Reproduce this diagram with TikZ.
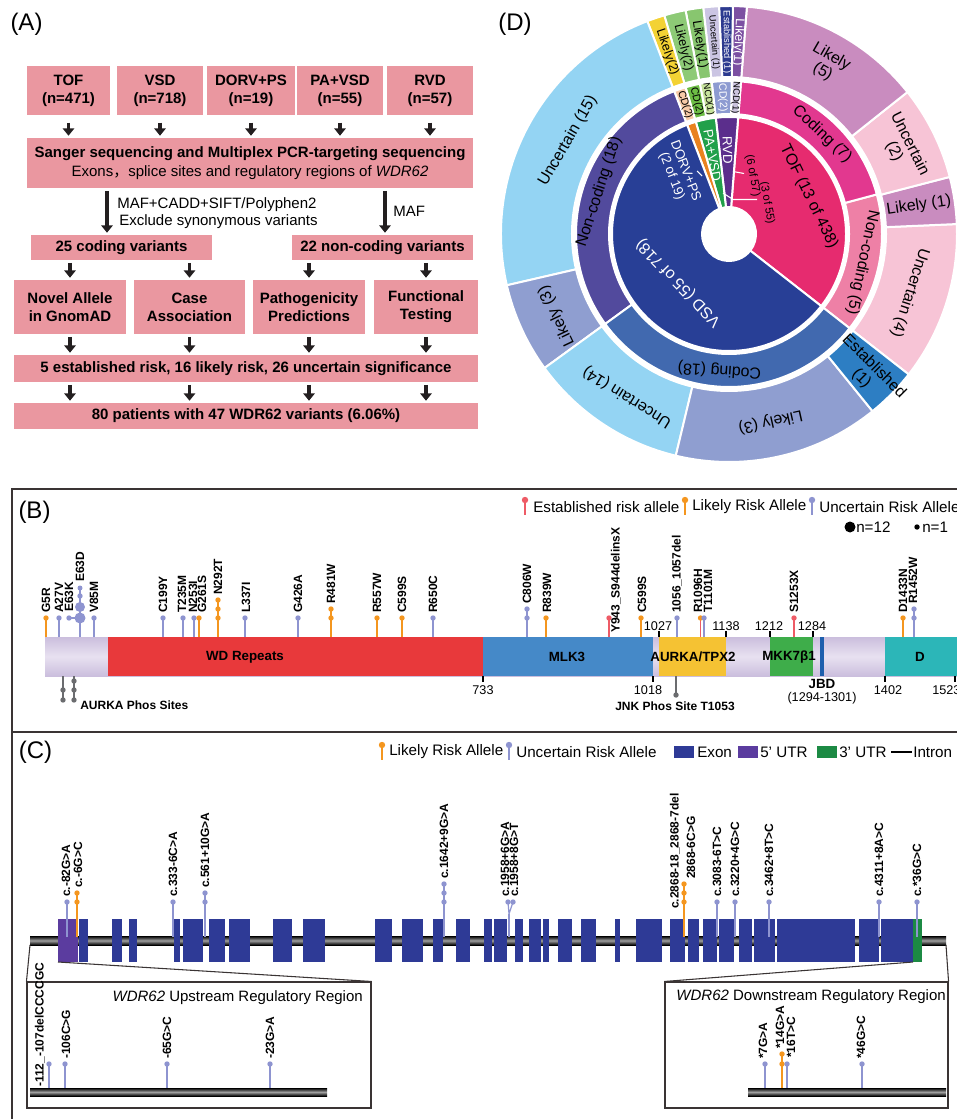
\documentclass[tikz,border=0pt]{standalone}
\usepackage{fontspec}
\setmainfont{Liberation Sans}
\newfontfamily\cjkfont{Noto Sans CJK SC}
\usetikzlibrary{arrows.meta}
\newcommand\fsz[2]{\fontsize{#1}{#2}\selectfont}
\definecolor{boxpink}{HTML}{EA97A0}
\definecolor{arrowk}{HTML}{231F20}
\definecolor{framek}{HTML}{3A3434}
\definecolor{estred}{HTML}{EE5B66}
\definecolor{likor}{HTML}{F4961F}
\definecolor{uncpu}{HTML}{8E94D0}
\definecolor{phosg}{HTML}{6B6C6F}
\definecolor{lavA}{HTML}{CBBEDD}
\definecolor{lavB}{HTML}{E8E1F0}
\definecolor{wdred}{HTML}{E8393B}
\definecolor{mlkblue}{HTML}{4589C8}
\definecolor{aurkay}{HTML}{F5C233}
\definecolor{mkkg}{HTML}{3EAD4A}
\definecolor{jbdb}{HTML}{1E5FAD}
\definecolor{dteal}{HTML}{2CB6B8}
\definecolor{exonc}{HTML}{2E3A96}
\definecolor{utrfive}{HTML}{5B3C9F}
\definecolor{utrthree}{HTML}{1C8A44}
\definecolor{tofIn}{HTML}{E62B6F}
\definecolor{vsdIn}{HTML}{283F96}
\definecolor{dorvIn}{HTML}{E9821F}
\definecolor{paIn}{HTML}{21A04A}
\definecolor{rvdIn}{HTML}{5B2E8C}
\definecolor{tofCod}{HTML}{E2388F}
\definecolor{tofNon}{HTML}{EE80A6}
\definecolor{vsdNon}{HTML}{524A9D}
\definecolor{vsdCod}{HTML}{4169AF}
\definecolor{cdPeach}{HTML}{F7CAA8}
\definecolor{cdGreen}{HTML}{6DBD45}
\definecolor{ncdLgreen}{HTML}{C7E29C}
\definecolor{rvdCD}{HTML}{8D9BD1}
\definecolor{rvdNCD}{HTML}{CBC3DD}
\definecolor{uncBlue}{HTML}{94D4F3}
\definecolor{likVSD}{HTML}{8F9ED0}
\definecolor{estVSD}{HTML}{2D7EC3}
\definecolor{uncPink}{HTML}{F7C4D6}
\definecolor{likMauve}{HTML}{C98CBF}
\definecolor{yelD}{HTML}{F3D234}
\definecolor{grnA}{HTML}{8DCA76}
\definecolor{grnB}{HTML}{88C66F}
\definecolor{uncOne}{HTML}{CBC5E3}
\definecolor{estNavy}{HTML}{2C3A8F}
\definecolor{likPurple}{HTML}{7C50A2}
\newcommand\seg[5]{\path[fill=#5,draw=white,line width=1.5pt] (#1:#3) arc[start angle=#1,end angle=#2,radius=#3] -- (#2:#4) arc[start angle=#2,end angle=#1,radius=#4] -- cycle;}
\newcommand\lp[4]{\draw[#2,line width=0.9pt] (#1,#4) -- (#1,#3); \fill[#2] (#1,#3) circle[radius=2.7];}
\newcommand\dt[3]{\fill[#3] (#1,#2) circle[radius=2.7];}
\newcommand\vl[3]{\node[vlab] at (#1,#2) {#3};}
\begin{document}
\begin{tikzpicture}[x=0.75pt,y=-0.75pt,
  abox/.style n args={2}{fill=boxpink,inner sep=0pt,minimum width=#1*0.75pt,minimum height=#2*0.75pt,align=center,font=\fsz{11.25}{13.5}\bfseries},
  arr/.style={arrowk,line width=2.6pt,-{Triangle[width=8.5pt,length=5.5pt]},shorten <=2pt,shorten >=1.5pt},
  lab/.style={inner sep=0pt,font=\fsz{11.25}{13.5}},
  plab/.style={inner sep=0pt,font=\fsz{18}{20}},
  vlab/.style={rotate=90,anchor=west,inner sep=0pt,font=\fsz{9}{10}\bfseries},
  dl/.style={inner sep=0pt,align=center,font=\fsz{12}{13}},
  dsm/.style={inner sep=0pt,font=\fsz{7}{8}},
  dmid/.style={inner sep=0pt,font=\fsz{8}{9}},
  dlk/.style={inner sep=0pt,font=\fsz{9.5}{10}},
  din/.style={inner sep=0pt,align=center,font=\fsz{10}{11}},
  dtiny/.style={inner sep=0pt,font=\fsz{8.5}{9}},
  leg/.style={inner sep=0pt,anchor=west,font=\fsz{11.4}{13}},
  dom/.style={inner sep=0pt,font=\fsz{10}{11}\bfseries},
  num/.style={inner sep=0pt,font=\fsz{9.5}{10}},
  gbar/.style={top color=black,bottom color=black,middle color=gray!75},
  tick/.style={line width=1.1pt,black},
  frm/.style={framek,line width=1.5pt},
  zln/.style={framek,line width=0.8pt}
]
\useasboundingbox (0,0) rectangle (956,1119);

% ================= Panel A =================
\node[plab] (labA) at (26.5,24) {(A)};
\node[abox={83}{49}] (tof) at (68.5,90.5) {TOF\\(n=471)};
\node[abox={86}{49}] (vsd) at (160,90.5) {VSD\\(n=718)};
\node[abox={88}{49}] (dorv) at (251,90.5) {DORV+PS\\(n=19)};
\node[abox={86}{49}] (pavsd) at (340,90.5) {PA+VSD\\(n=55)};
\node[abox={86}{49}] (rvd) at (430,90.5) {RVD\\(n=57)};
\node[abox={446}{50},font=\fsz{11.25}{14.5}] (sanger) at (250,163) {{\bfseries Sanger sequencing and Multiplex PCR-targeting sequencing}\\{\mdseries Exons{\cjkfont ，}splice sites and regulatory regions of \textit{WDR62}}};
\node[abox={181}{25}] (coding) at (121.5,247.5) {25 coding variants};
\node[abox={181}{25}] (noncoding) at (382.5,247.5) {22 non-coding variants};
\node[abox={112}{54}] (novel) at (70,307) {Novel Allele\\in GnomAD};
\node[abox={111}{54}] (case) at (189.5,307) {Case\\Association};
\node[abox={112}{54}] (patho) at (309,307) {Pathogenicity\\Predictions};
\node[abox={104}{54}] (func) at (426,307) {Functional\\Testing};
\node[abox={464}{27}] (est) at (246,368.5) {5 established risk, 16 likely risk, 26 uncertain significance};
\node[abox={464}{26}] (pat) at (246,416) {80 patients with 47 WDR62 variants (6.06\%)};
\foreach \n in {tof,vsd,dorv,pavsd,rvd} \draw[arr,shorten <=5.5pt] (\n.south) -- (\n.south |- sanger.north);
\coordinate (lA) at (107,0);
\coordinate (lB) at (385,0);
\draw[arr] (sanger.south -| lA) -- (coding.north -| lA);
\draw[arr] (sanger.south -| lB) -- (noncoding.north -| lB);
\node[lab,anchor=west] (maf1) at (117,205) {MAF+CADD+SIFT/Polyphen2};
\node[lab,anchor=west] (maf2) at (119,222) {Exclude synonymous variants};
\node[lab,anchor=west] (maf3) at (393,211) {MAF};
\draw[arr] (coding.south -| novel.north) -- (novel.north);
\draw[arr] (coding.south -| case.north) -- (case.north);
\draw[arr] (noncoding.south -| patho.north) -- (patho.north);
\draw[arr] (noncoding.south -| func.north) -- (func.north);
\foreach \n in {novel,case,patho,func} \draw[arr] (\n.south) -- (\n.south |- est.north);
\foreach \n in {novel,case,patho,func} \draw[arr] (\n.south |- est.south) -- (\n.south |- pat.north);

% ================= Panel D =================
\node[plab] (labD) at (515,24) {(D)};
\begin{scope}[shift={(729,234)},yscale=-1]
% inner ring
\seg{-38}{85.5}{27}{117}{tofIn}
\seg{85.5}{96.5}{27}{117}{rvdIn}
\seg{96.5}{106.5}{27}{117}{paIn}
\seg{106.5}{111}{27}{117}{dorvIn}
\seg{111}{322}{27}{117}{vsdIn}
% middle ring
\seg{-38}{15}{120}{153}{tofNon}
\seg{15}{85.5}{120}{153}{tofCod}
\seg{85.5}{89}{120}{153}{rvdNCD}
\seg{89}{96.5}{120}{153}{rvdCD}
\seg{96.5}{101}{120}{153}{ncdLgreen}
\seg{101}{106.5}{120}{153}{cdGreen}
\seg{106.5}{111}{120}{153}{cdPeach}
\seg{111}{216}{120}{153}{vsdNon}
\seg{216}{322}{120}{153}{vsdCod}
% outer ring
\seg{-38}{2.5}{157}{228}{uncPink}
\seg{2.5}{14.5}{157}{228}{likMauve}
\seg{14.5}{38.5}{157}{228}{uncPink}
\seg{38.5}{85.5}{157}{228}{likMauve}
\seg{85.5}{89}{157}{228}{likPurple}
\seg{89}{92.5}{157}{228}{estNavy}
\seg{92.5}{96.5}{157}{228}{uncOne}
\seg{96.5}{101}{157}{228}{grnB}
\seg{101}{106.5}{157}{228}{grnA}
\seg{106.5}{111}{157}{228}{yelD}
\seg{111}{193}{157}{228}{uncBlue}
\seg{193}{216}{157}{228}{likVSD}
\seg{216}{256.5}{157}{228}{uncBlue}
\seg{256.5}{309}{157}{228}{likVSD}
\seg{309}{322}{157}{228}{estVSD}
% labels outer / middle
\node[dl,rotate=60] (dU15) at (150:186) {Uncertain (15)};
\node[dl,rotate=72] (dN18) at (162:136.5) {Non-coding (18)};
\node[dl,rotate=115.5] (dL3a) at (205.5:191) {Likely (3)};
\node[dl,rotate=148] (dU14) at (238:192) {Uncertain (14)};
\node[dl,rotate=176] (dC18) at (266:136.5) {Coding (18)};
\node[dl,rotate=-167.5] (dL3b) at (-77.5:192) {Likely (3)};
\node[dl,rotate=-45] (dE1) at (-45:196) {Established\\(1)};
\node[dl,rotate=-108] (dU4) at (-18:190) {Uncertain (4)};
\node[dl,rotate=-102] (dN5) at (-12:136.5) {Non-coding (5)};
\node[dl,rotate=8.5] (dL1) at (8.5:192) {Likely (1)};
\node[dl,rotate=-63.5] (dU2) at (26.5:193) {Uncertain\\(2)};
\node[dl,rotate=-30] (dL5) at (60:196) {Likely\\(5)};
\node[dl,rotate=-43] (dC7) at (47:136.5) {Coding (7)};
\node[dl,rotate=-64] (dTOF) at (25:88) {TOF (13 of 438)};
\node[dl,white,rotate=134] (dVSD) at (224:70) {VSD (55 of 718)};
\node[din,white,rotate=-89] (dRVD) at (91:84) {RVD};
\node[din,white,rotate=-80] (dPA) at (102:80) {PA+VSD};
\node[din,white,rotate=-69] (dDORV) at (130:79) {DORV+PS\\(2 of 19)};
\node[dtiny,rotate=-80] (d657) at (68:63) {(6 of 57)};
\node[dtiny,rotate=-80] (d355) at (39:49) {(3 of 55)};
\node[dlk,rotate=-71.25] (oY) at (108.75:192) {Likely(2)};
\node[dlk,rotate=-76.25] (oG2) at (103.75:192) {Likely(2)};
\node[dlk,rotate=-81.25] (oG1) at (98.75:192) {Likely(1)};
\node[dsm,rotate=-85.5] (oU1) at (94.5:192) {Uncertain (1)};
\node[dsm,white,rotate=-89.25] (oE1) at (90.75:192) {Established (1)};
\node[dlk,white,rotate=-92.75] (oP1) at (87.25:192) {Likely(1)};
\node[dmid,rotate=-71.25] (mP) at (108.75:136.5) {CD(2)};
\node[dmid,rotate=-76.25] (mG) at (103.75:136.5) {CD(2)};
\node[dsm,rotate=-81.25] (mLG) at (98.75:136.5) {NCD(1)};
\node[dmid,white,rotate=-87.25] (mR) at (92.75:136.5) {CD(2)};
\node[dsm,rotate=-92.75] (mRN) at (87.25:136.5) {NCD(1)};
\end{scope}
\coordinate (q1) at (733,171.5);
\coordinate (q2) at (744,173.5);
\coordinate (q3) at (723,193);
\coordinate (q4) at (733,199.5);
\coordinate (q5) at (757,199.5);
\coordinate (q6) at (697,171);
\coordinate (q7) at (702,176);
\draw[white,line width=0.8pt] (q1) -- (q2);
\draw[white,line width=0.8pt] (q3) -- (q4) -- (q5);
\draw[white,line width=0.8pt] (q6) -- (q7);

% ================= Frames =================
\draw[frm] (960,489) -- (12,489) -- (12,1125);
\draw[frm] (12,732) -- (960,732);

% ================= Panel B =================
\node[plab] (labB) at (34.5,512) {(B)};
\draw[estred,line width=1.1pt] (525,500) -- (525,515); \fill[estred] (525,500) circle[radius=3.2];
\node[leg] (lgE) at (533,507) {Established risk allele};
\draw[likor,line width=1.1pt] (685,500) -- (685,515); \fill[likor] (685,500) circle[radius=3.2];
\node[leg] (lgL) at (692,507) {Likely Risk Allele};
\draw[uncpu,line width=1.1pt] (812,500) -- (812,515); \fill[uncpu] (812,500) circle[radius=3.2];
\node[leg] (lgU) at (819,507) {Uncertain Risk Allele};
\fill[black] (850,527) circle[radius=5.5];
\node[leg] (n12) at (856,527) {n=12};
\fill[black] (917,527) circle[radius=2.7];
\node[leg] (n1) at (922,527) {n=1};

% protein bar
\shade[top color=lavA,bottom color=lavA,middle color=lavB] (45,637) rectangle (960,676);
\fill[wdred] (108,637) rectangle (483,676);
\fill[mlkblue] (483,637) rectangle (653,676);
\fill[aurkay] (659,637) rectangle (726,676);
\fill[mkkg] (770,637) rectangle (813,676);
\fill[jbdb] (820,637) rectangle (823.5,676);
\fill[dteal] (885,637) rectangle (960,676);
\node[dom] (dWD) at (245,657) {WD Repeats};
\node[dom] (dMLK) at (567,657) {MLK3};
\node[dom] (dAUR) at (693,657) {AURKA/TPX2};
\node[dom] (dMKK) at (789,657) {MKK7β1};
\node[dom] (dD) at (920,657) {D};
% ticks
\foreach \x in {483,653,885,955} \draw[tick] (\x,676) -- (\x,682);
\foreach \x in {659,726,770,813} \draw[tick] (\x,631) -- (\x,637);
\node[num] (p733) at (483,690) {733};
\node[num] (p1018) at (648,690) {1018};
\node[num] (p1402) at (888,690) {1402};
\node[num,anchor=west] (p1523) at (932,690) {1523};
\node[num] (p1027) at (658,626) {1027};
\node[num] (p1138) at (726,626) {1138};
\node[num] (p1212) at (769,626) {1212};
\node[num] (p1284) at (812,626) {1284};
\node[dom] (jbd) at (822,684) {JBD};
\node[num] (jbdr) at (822,698) {(1294-1301)};
% phos sites
\draw[phosg,line width=0.9pt] (676,676) -- (676,695); \dt{676}{695}{phosg}
\node[inner sep=0pt,font=\fsz{9}{10}\bfseries] (jnk) at (675,706) {JNK Phos Site T1053};
\draw[phosg,line width=0.9pt] (63,676) -- (63,700); \dt{63}{690}{phosg} \dt{63}{700}{phosg}
\draw[phosg,line width=0.9pt] (74,676) -- (74,700); \dt{74}{681}{phosg} \dt{74}{690}{phosg} \dt{74}{700}{phosg}
\node[inner sep=0pt,anchor=west,font=\fsz{9}{10}\bfseries] (aurp) at (80,705) {AURKA Phos Sites};
% lollipops B
\lp{46}{likor}{618}{637}
\lp{59}{uncpu}{618}{637}
\draw[uncpu,line width=0.9pt] (80,637) -- (80,588);
\draw[uncpu,line width=0.9pt] (69,618) -- (80,618);
\dt{69}{618}{uncpu}
\fill[uncpu] (80,618) circle[radius=5.5];
\fill[uncpu] (80,607) circle[radius=5];
\dt{80}{596}{uncpu}
\fill[uncpu] (80,588) circle[radius=2.5];
\lp{94}{uncpu}{618}{637}
\lp{163}{uncpu}{618}{637}
\lp{183}{uncpu}{618}{637}
\lp{194}{uncpu}{618}{637}
\lp{199}{likor}{618}{637}
\lp{218}{likor}{600}{637} \dt{218}{609}{likor} \dt{218}{618}{likor}
\lp{245}{uncpu}{618}{637}
\lp{298}{uncpu}{618}{637}
\lp{331}{likor}{609}{637} \dt{331}{618}{likor}
\lp{377}{likor}{618}{637}
\lp{402}{likor}{618}{637}
\lp{433}{uncpu}{618}{637}
\lp{527}{uncpu}{609}{637} \dt{527}{618}{uncpu}
\lp{546}{likor}{618}{637}
\lp{609}{estred}{618}{637}
\lp{641}{likor}{618}{637}
\lp{677}{uncpu}{618}{637}
\draw[estred,line width=0.9pt] (700.5,637) -- (700.5,618); \dt{700.5}{618}{likor}
\lp{704}{uncpu}{618}{637}
\lp{794}{estred}{618}{637}
\lp{903}{likor}{618}{637}
\lp{914}{uncpu}{609}{637} \dt{914}{618}{uncpu}
\vl{46}{613}{G5R}
\vl{59}{613}{A27V}
\vl{69}{612}{E63K}
\vl{80}{582}{E63D}
\vl{94}{613}{V85M}
\vl{163}{613}{C199Y}
\vl{182}{613}{T235M}
\vl{193}{613}{N253I}
\vl{202}{613}{G261S}
\vl{218}{595}{N292T}
\vl{246}{613}{L337I}
\vl{298}{613}{G426A}
\vl{331}{604}{R481W}
\vl{377}{613}{R557W}
\vl{402}{613}{C599S}
\vl{433}{613}{R650C}
\vl{527}{604}{C806W}
\vl{547}{613}{R839W}
\vl{616}{633}{Y943\_S944delinsX}
\vl{642}{613}{C599S}
\vl{677}{613}{1056\_1057del}
\vl{698}{613}{R1096H}
\vl{708}{613}{T1101M}
\vl{794}{613}{S1253X}
\vl{903}{613}{D1433N}
\vl{913}{604}{R1452W}

% ================= Panel C =================
\node[plab] (labC) at (35.5,752) {(C)};
\draw[likor,line width=1.1pt] (382,745) -- (382,760); \fill[likor] (382,745) circle[radius=3.2];
\node[leg] (cgL) at (389,752) {Likely Risk Allele};
\draw[uncpu,line width=1.1pt] (509,745) -- (509,760); \fill[uncpu] (509,745) circle[radius=3.2];
\node[leg] (cgU) at (516,752) {Uncertain Risk Allele};
\fill[exonc] (674,746) rectangle (694,758);
\node[leg] (cgE) at (697,752) {Exon};
\fill[utrfive] (738,746) rectangle (758,758);
\node[leg] (cg5) at (760,752) {5' UTR};
\fill[utrthree] (817,746) rectangle (837,758);
\node[leg] (cg3) at (839,752) {3' UTR};
\draw[black,line width=2.2pt] (891,752) -- (912,752);
\node[leg] (cgI) at (913,752) {Intron};
% gene structure
\shade[gbar] (30,936) rectangle (946,945);
\fill[utrfive] (58,919) rectangle (78,962);
\foreach \a/\b in {78.5/88,112/122,129/137,174/180,183/203,209/225,229/250,273/292,303/325,375/392,402/423,433/443,456/470,484/492,494/507,515/523,529/541,543/549,558/572,581/596,615/620,636/662,670/685,688/699,703/717,718.5/734,739/752,753.5/775,777/855,859/879,880.5/913}
  \fill[exonc] (\a,919) rectangle (\b,962);
\fill[utrthree] (913,919) rectangle (922,962);
% lollipops C
\lp{67}{uncpu}{902}{937}
\lp{77}{likor}{893}{937} \dt{77}{902}{likor}
\lp{173}{uncpu}{902}{937}
\lp{205}{uncpu}{893}{937} \dt{205}{902}{uncpu}
\lp{444}{uncpu}{884}{937} \dt{444}{893}{uncpu} \dt{444}{902}{uncpu}
\draw[uncpu,line width=0.9pt] (508,902) -- (509,914) -- (513,902);
\draw[uncpu,line width=0.9pt] (509,914) -- (509,937);
\dt{508}{902}{uncpu} \dt{513}{902}{uncpu}
\lp{684}{likor}{884}{937} \dt{684}{893}{likor} \dt{684}{902}{likor}
\lp{717}{uncpu}{902}{937}
\lp{735}{uncpu}{902}{937}
\lp{769}{uncpu}{902}{937}
\lp{879}{uncpu}{902}{937}
\lp{917}{uncpu}{902}{937}
\vl{66}{897}{c.-82G>A}
\vl{78}{888}{c.-6G>C}
\vl{173}{897}{c.333-6C>A}
\vl{205}{888}{c.561+10G>A}
\vl{444}{879}{c.1642+9G>A}
\vl{505}{897}{c.1958+6G>A}
\vl{514}{897}{c.1958+8G>T}
\vl{675}{909}{c.2868-18\_2868-7del}
\vl{691}{879}{2868-6C>G}
\vl{717}{897}{c.3083-6T>C}
\vl{735}{897}{c.3220+4G>C}
\vl{769}{897}{c.3462+8T>C}
\vl{879}{897}{c.4311+8A>C}
\vl{917}{897}{c.*36G>C}
% zoom boxes
\node[draw=framek,line width=0.8pt,inner sep=0pt,minimum width=344*0.75pt,minimum height=126*0.75pt] (upbox) at (199,1045) {};
\node[draw=framek,line width=0.8pt,inner sep=0pt,minimum width=283*0.75pt,minimum height=126*0.75pt] (dnbox) at (806.5,1045) {};
\coordinate (u1) at (30,945);
\coordinate (u2) at (58,962);
\coordinate (d1) at (913,962);
\coordinate (d2) at (946,945);
\draw[zln] (u1) -- (upbox.north west);
\draw[zln] (u2) -- (upbox.north east);
\draw[zln] (d1) -- (dnbox.north west);
\draw[zln] (d2) -- (dnbox.north east);
\node[inner sep=0pt,anchor=east,font=\fsz{11.25}{13}] (upt) at (363,998) {\textit{WDR62} Upstream Regulatory Region};
\node[inner sep=0pt,anchor=east,font=\fsz{11.25}{13}] (dnt) at (946,997) {\textit{WDR62} Downstream Regulatory Region};
\shade[gbar] (30,1088) rectangle (327,1096);
\shade[gbar] (748,1088) rectangle (946,1096);
\lp{49}{uncpu}{1064}{1088}
\lp{65}{uncpu}{1064}{1088}
\lp{167}{uncpu}{1064}{1088}
\lp{270}{uncpu}{1064}{1088}
\vl{40}{1087}{-112\_-107delCCCCGC}
\vl{66}{1059}{-106C>G}
\vl{167}{1059}{-65G>C}
\vl{270}{1059}{-23G>A}
\lp{765}{uncpu}{1064}{1088}
\lp{782}{likor}{1054}{1088} \dt{782}{1064}{likor}
\lp{787}{uncpu}{1064}{1088}
\lp{862}{uncpu}{1064}{1088}
\vl{763}{1059}{*7G>A}
\vl{780}{1049}{*14G>A}
\vl{791}{1058}{*16T>C}
\vl{861}{1059}{*46G>C}
\end{tikzpicture}
\end{document}
